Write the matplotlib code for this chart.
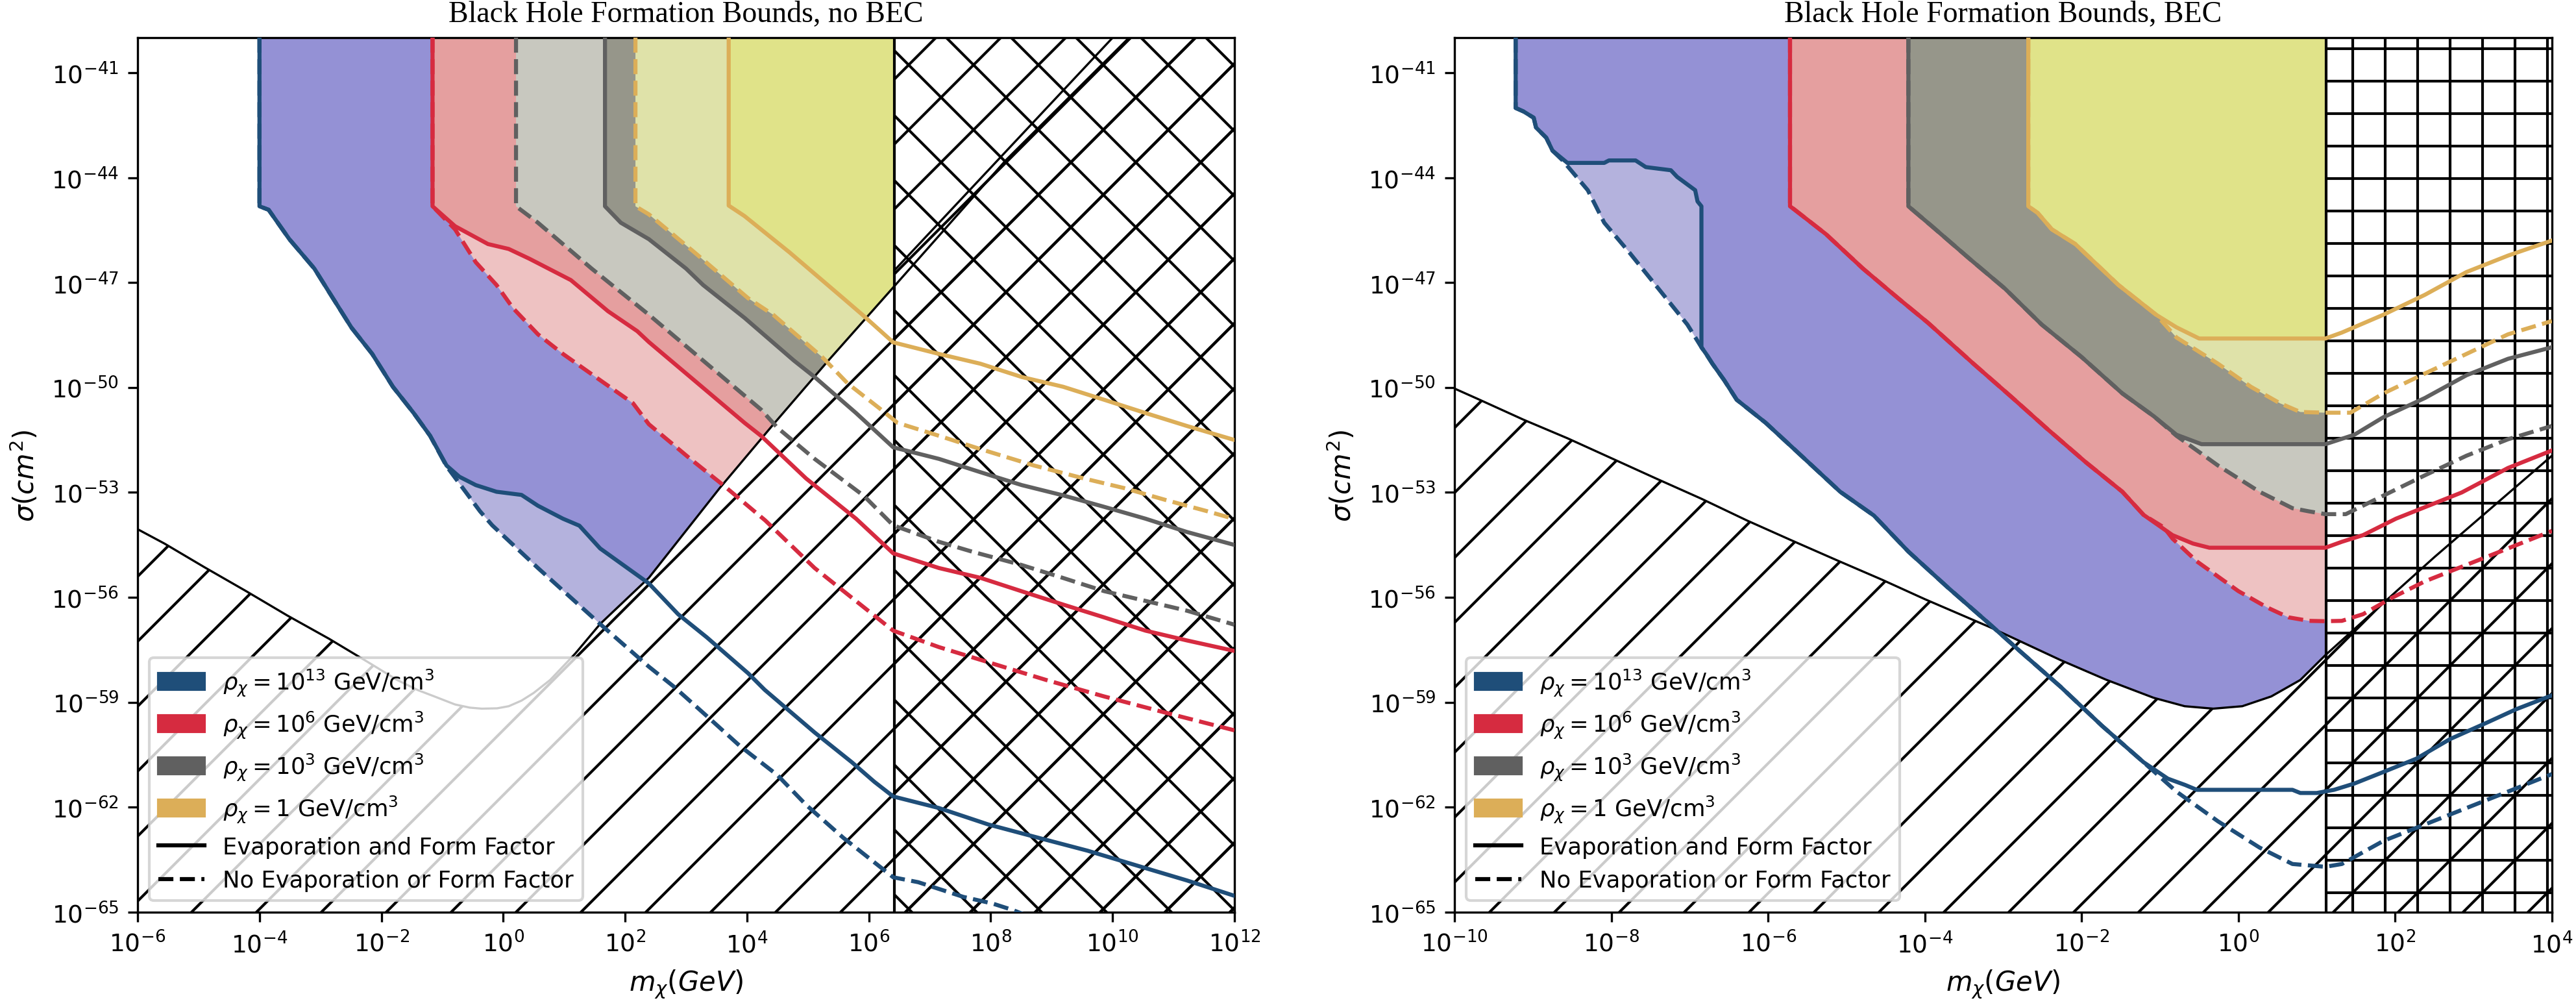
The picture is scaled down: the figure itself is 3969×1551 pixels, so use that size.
import numpy as np
import matplotlib
matplotlib.use("Agg")
import matplotlib.pyplot as plt
from matplotlib.patches import Patch
from matplotlib.lines import Line2D
from matplotlib.ticker import NullLocator

# all curve data below are log10 values
# (mass in GeV, cross section in cm^2)
Y_LIM = (-65, -40)
L_X_LIM = (-6, 12)
R_X_LIM = (-10, 4)

# ---------------- left panel: no BEC ----------------
L_BLUE_SOLID_M = [-4.0, -4.0, -3.85, -3.51, -3.10, -2.83, -2.49, -2.15, -1.81, -1.47, -1.20, -0.93, -0.72, -0.45,
                  -0.11, 0.30, 0.57, 0.98, 1.25, 1.59, 2.39, 2.87, 3.34, 4.02, 4.29, 5.11, 5.72, 6.09, 6.40, 7.15,
                  7.96, 8.78, 9.59, 10.41, 11.22, 12.0]
L_BLUE_SOLID_S = [-40, -44.82, -44.92, -45.76, -46.60, -47.35, -48.29, -49.04, -49.98, -50.73, -51.38, -52.23, -52.55,
                  -52.79, -52.98, -53.07, -53.38, -53.75, -53.95, -54.6, -55.6, -56.48, -57.14, -58.17, -58.64, -59.86,
                  -60.71, -61.27, -61.69, -62.02, -62.49, -62.87, -63.24, -63.67, -64.09, -64.53]
L_BLUE_DASH_M = [-4.0, -4.0, -3.85, -3.51, -3.10, -2.83, -2.49, -2.15, -1.81, -1.47, -1.20, -0.93, -0.38, -0.18,
                 0.57, 1.59, 2.39, 2.80, 3.34, 3.88, 4.50, 4.97, 5.58, 6.19, 6.40, 6.81, 7.55, 8.03, 8.37, 8.6]
L_BLUE_DASH_S = [-40, -44.82, -44.92, -45.76, -46.60, -47.35, -48.29, -49.04, -49.98, -50.73, -51.38, -52.25, -53.54,
                 -53.94, -55.16, -56.76, -57.98, -58.55, -59.39, -60.24, -61.08, -61.93, -62.87, -63.71, -64.0, -64.14,
                 -64.56, -64.75, -64.94, -65.1]

L_RED_SOLID_M = [-1.16, -1.16, -0.79, -0.25, 0.09, 0.43, 1.11, 1.72, 2.20, 2.39, 3.07, 3.96, 4.23, 4.97, 5.79, 6.40,
                 7.15, 7.83, 8.50, 9.18, 9.86, 10.54, 11.22, 12.0]
L_RED_SOLID_S = [-40, -44.82, -45.39, -45.90, -46.04, -46.32, -46.93, -47.82, -48.39, -48.70, -49.70, -51.01, -51.38,
                 -52.6, -53.75, -54.74, -55.16, -55.44, -55.82, -56.20, -56.57, -56.95, -57.23, -57.53]
L_RED_DASH_M = [-1.16, -1.16, -0.79, -0.45, -0.11, 0.16, 0.57, 0.98, 1.59, 2.13, 2.39, 3.07, 3.61, 4.30, 5.11, 5.65,
                6.40, 7.15, 8.03, 8.91, 9.86, 10.88, 12.0]
L_RED_DASH_S = [-40, -44.82, -45.48, -46.42, -47.07, -47.73, -48.48, -49.04, -49.79, -50.45, -51.05, -52.04, -52.79,
                -53.8, -55.16, -55.91, -56.95, -57.42, -57.89, -58.36, -58.83, -59.30, -59.80]

L_GRAY_SOLID_M = [1.67, 1.67, 1.93, 2.39, 3.00, 3.28, 3.96, 4.77, 5.11, 5.79, 6.40, 7.15, 7.83, 8.51, 9.18, 9.86,
                  10.54, 11.22, 12.0]
L_GRAY_SOLID_S = [-40, -44.82, -45.29, -45.76, -46.60, -47.07, -48.01, -49.23, -49.70, -50.73, -51.71, -52.04, -52.42,
                  -52.79, -53.08, -53.41, -53.75, -54.13, -54.50]
L_GRAY_DASH_M = [0.21, 0.21, 0.57, 1.45, 2.39, 3.28, 4.23, 4.50, 5.11, 5.92, 6.40, 7.15, 7.69, 8.50, 9.18, 9.86,
                 10.54, 11.22, 12.0]
L_GRAY_DASH_S = [-40, -44.82, -45.29, -46.60, -47.92, -49.23, -50.63, -51.15, -52.04, -53.10, -53.94, -54.41, -54.69,
                 -55.07, -55.44, -55.82, -56.10, -56.38, -56.78]

L_GOLD_SOLID_M = [3.70, 3.70, 3.96, 4.70, 5.58, 5.92, 6.40, 7.15, 7.83, 8.51, 9.19, 9.86, 10.54, 11.22, 12.0]
L_GOLD_SOLID_S = [-40, -44.80, -45.10, -46.14, -47.45, -47.96, -48.71, -49.04, -49.32, -49.70, -49.98, -50.35, -50.73,
                  -51.10, -51.50]
L_GOLD_DASH_M = [2.17, 2.17, 2.39, 3.14, 4.02, 4.43, 5.24, 5.65, 6.20, 6.47, 7.15, 7.83, 8.71, 9.53, 10.20, 10.88,
                 11.56, 12.0]
L_GOLD_DASH_S = [-40, -44.82, -45.05, -46.14, -47.45, -47.92, -49.14, -49.88, -50.63, -51.01, -51.38, -51.76, -52.23,
                 -52.60, -52.88, -53.22, -53.54, -53.76]

# boundary of the hatched (no black hole) region
L_BOUND_M = [-6.0, -5.56, -4.90, -4.22, -3.54, -2.86, -2.20, -1.74, -1.40, -1.13, -0.79, -0.55, -0.35, -0.10, 0.09,
             0.30, 0.50, 0.77, 1.18, 1.59, 2.39, 3.55, 4.43, 5.31, 6.40, 8.25, 10.27]
L_BOUND_S = [-54.05, -54.46, -55.14, -55.82, -56.52, -57.18, -57.87, -58.36, -58.65, -58.83, -59.06, -59.15, -59.18,
             -59.17, -59.11, -58.95, -58.73, -58.36, -57.61, -56.76, -55.44, -52.88, -51.06, -49.28, -47.14, -43.50,
             -40.0]
L_EXTRA_M = [6.42, 9.98]
L_EXTRA_S = [-46.65, -40.04]
L_XHATCH_EDGE = 6.42

# ---------------- right panel: BEC ----------------
R_BLUE_SOLID_M = [-9.22, -9.22, -9.12, -8.99, -8.96, -8.83, -8.75, -8.56, -8.09, -8.03, -7.69, -7.56, -7.24, -7.16,
                  -6.93, -6.90, -6.85, -6.85, -6.79, -6.71, -6.56, -6.40, -6.03, -5.60, -5.08, -4.65, -4.21, -3.70,
                  -3.22, -2.80, -2.27, -1.74, -1.21, -0.90, -0.68, -0.53, 0.69, 0.79, 1.0, 1.22, 1.48, 1.85, 2.27,
                  2.70, 3.17, 3.54, 4.0]
R_BLUE_SOLID_S = [-40, -42.01, -42.11, -42.29, -42.57, -42.86, -43.23, -43.58, -43.58, -43.51, -43.51, -43.70, -43.79,
                  -43.98, -44.36, -44.68, -44.82, -48.85, -49.04, -49.32, -49.79, -50.35, -51.01, -51.90, -52.98,
                  -53.66, -54.69, -55.73, -56.67, -57.51, -58.55, -59.67, -60.71, -61.18, -61.36, -61.50, -61.50,
                  -61.59, -61.59, -61.50, -61.32, -60.99, -60.61, -60.05, -59.58, -59.20, -58.80]
R_BLUE_DASH_M = [-9.22, -9.22, -9.12, -8.99, -8.96, -8.83, -8.75, -8.62, -8.30, -8.09, -7.77, -7.40, -7.03, -6.85,
                 -6.79, -6.71, -6.56, -6.40, -6.03, -5.60, -5.08, -4.65, -4.21, -3.70, -3.22, -2.80, -2.27, -1.74,
                 -1.21, -0.79, -0.26, 0.27, 0.69, 1.11, 1.32, 1.85, 2.38, 2.91, 3.44, 4.0]
R_BLUE_DASH_S = [-40, -42.01, -42.11, -42.29, -42.57, -42.86, -43.23, -43.51, -44.36, -45.29, -46.14, -47.17, -48.20,
                 -48.85, -49.04, -49.32, -49.79, -50.35, -51.01, -51.90, -52.98, -53.66, -54.69, -55.73, -56.67,
                 -57.51, -58.55, -59.67, -60.71, -61.55, -62.40, -63.15, -63.62, -63.70, -63.62, -62.96, -62.49,
                 -62.02, -61.55, -61.05]

R_RED_SOLID_M = [-5.72, -5.72, -5.66, -5.26, -4.79, -4.34, -3.96, -3.38, -2.90, -2.43, -1.95, -1.48, -1.21, -0.84,
                 -0.58, -0.37, 1.11, 1.32, 1.59, 2.01, 2.38, 2.85, 3.44, 4.0]
R_RED_SOLID_S = [-40, -44.82, -44.92, -45.62, -46.60, -47.45, -48.15, -49.32, -50.26, -51.20, -52.13, -52.98, -53.64,
                 -54.22, -54.46, -54.58, -54.58, -54.41, -54.22, -53.75, -53.42, -53.0, -52.3, -51.8]
R_RED_DASH_M = [-5.72, -5.72, -5.66, -5.26, -4.79, -4.34, -3.96, -3.38, -2.90, -2.43, -1.95, -1.48, -1.21, -0.95,
                -0.84, -0.53, 0.0, 0.37, 0.64, 0.90, 1.11, 1.32, 1.59, 1.96, 2.38, 2.91, 3.44, 4.0]
R_RED_DASH_S = [-40, -44.82, -44.92, -45.62, -46.60, -47.45, -48.15, -49.32, -50.26, -51.20, -52.13, -52.98, -53.64,
                -54.0, -54.32, -54.97, -55.82, -56.29, -56.57, -56.67, -56.68, -56.67, -56.48, -56.01, -55.54, -55.07,
                -54.60, -54.10]

R_GRAY_SOLID_M = [-4.21, -4.21, -3.91, -3.43, -2.98, -2.51, -2.00, -1.48, -1.08, -0.79, -0.47, 1.11, 1.48, 1.85,
                  2.38, 2.91, 3.44, 4.0]
R_GRAY_SOLID_S = [-40, -44.82, -45.39, -46.32, -47.17, -48.20, -49.13, -50.17, -50.82, -51.35, -51.62, -51.62, -51.35,
                  -50.85, -50.30, -49.65, -49.18, -48.85]
R_GRAY_DASH_M = [-4.21, -4.21, -3.91, -3.43, -2.98, -2.51, -2.00, -1.48, -1.08, -0.79, -0.26, 0.27, 0.69, 0.90,
                 1.11, 1.37, 1.85, 2.38, 2.91, 3.44, 4.0]
R_GRAY_DASH_S = [-40, -44.82, -45.39, -46.32, -47.17, -48.20, -49.13, -50.17, -50.82, -51.38, -52.23, -52.98, -53.45,
                 -53.54, -53.62, -53.62, -53.09, -52.51, -51.95, -51.48, -51.10]

R_GOLD_SOLID_M = [-2.68, -2.68, -2.56, -2.38, -2.08, -1.53, -1.05, -0.79, -0.50, 1.11, 1.32, 1.85, 2.38, 2.91, 3.44,
                  4.0]
R_GOLD_SOLID_S = [-40, -44.82, -45.01, -45.48, -45.90, -47.07, -47.92, -48.28, -48.60, -48.60, -48.43, -47.92, -47.35,
                  -46.70, -46.23, -45.80]
R_GOLD_DASH_M = [-2.68, -2.68, -2.56, -2.38, -2.08, -1.53, -1.05, -0.79, -0.26, 0.16, 0.53, 0.79, 1.11, 1.43, 1.85,
                 2.38, 2.91, 3.44, 4.0]
R_GOLD_DASH_S = [-40, -44.82, -45.01, -45.48, -45.90, -47.07, -47.92, -48.57, -49.32, -49.98, -50.45, -50.70, -50.72,
                 -50.72, -50.17, -49.60, -49.04, -48.48, -48.10]

R_BOUND_M = [-10.0, -9.70, -9.12, -8.56, -7.98, -7.43, -6.85, -6.27, -5.71, -5.13, -4.55, -4.00, -3.17, -2.27, -1.69,
             -1.08, -0.685, -0.32, 0.05, 0.42, 0.79, 1.11, 2.5, 4.0]
R_BOUND_S = [-50.03, -50.33, -50.92, -51.45, -52.04, -52.60, -53.18, -53.80, -54.36, -54.93, -55.49, -56.05, -56.85,
             -57.79, -58.35, -58.87, -59.11, -59.18, -59.11, -58.83, -58.36, -57.65, -54.85, -51.95]
R_GRID_EDGE = 1.12

# legend / style
LABELS = [r"$\rho_\chi = 10^{13}$ GeV/cm$^3$", r"$\rho_\chi = 10^{6}$ GeV/cm$^3$",
          r"$\rho_\chi = 10^{3}$ GeV/cm$^3$", r"$\rho_\chi = 1$ GeV/cm$^3$"]
LINE_COLORS = ["#1f4e79", "#d62b40", "#606060", "#dcae58"]
DARK_FILLS = ["#9491d5", "#e59f9f", "#96968a", "#e0e389"]
LIGHT_FILLS = ["#b4b2dd", "#eec2c2", "#c8c8bf", "#dfe2a9"]

plt.rcParams["hatch.linewidth"] = 1.0


def lg(a):
    return 10.0 ** np.asarray(a, dtype=float)


def fill_above(ax, m, s, color):
    # polygon from the curve up to the top of the plot
    x = lg(list(m) + [m[-1]])
    y = lg(list(s) + [Y_LIM[1]])
    ax.fill(x, y, facecolor=color, edgecolor="none", lw=0, zorder=1)


def hatch_poly(ax, x, y, pattern):
    ax.fill(x, y, facecolor="white", edgecolor="none", lw=0, zorder=2)
    ax.fill(x, y, facecolor="none", edgecolor="black", hatch=pattern, lw=0, zorder=2.2)


def draw_panel(ax, curves, bound_m, bound_s, xlim, edge, edge_hatch, title):
    # filled exclusion regions, widest first
    for (sm, ss, dm, ds), dark, light in zip(curves, DARK_FILLS, LIGHT_FILLS):
        fill_above(ax, dm, ds, light)
        fill_above(ax, sm, ss, dark)

    # hatched region below the boundary curve
    bx = lg(list(bound_m) + [xlim[1], xlim[1], xlim[0]])
    by = lg(list(bound_s) + [Y_LIM[1], Y_LIM[0], Y_LIM[0]])
    hatch_poly(ax, bx, by, "/")
    # hatched band on the right
    rx = lg([edge, xlim[1], xlim[1], edge])
    ry = lg([Y_LIM[0], Y_LIM[0], Y_LIM[1], Y_LIM[1]])
    ax.fill(rx, ry, facecolor="white", edgecolor="none", lw=0, zorder=2)
    ax.fill(rx, ry, facecolor="none", edgecolor="black", hatch=edge_hatch, lw=0, zorder=2.3)
    ax.axvline(lg(edge), color="black", lw=1.0, zorder=2.5)
    ax.plot(lg(bound_m), lg(bound_s), color="black", lw=0.8, zorder=2.5)

    for (sm, ss, dm, ds), c in zip(curves, LINE_COLORS):
        ax.plot(lg(dm), lg(ds), color=c, lw=1.5, ls="--", zorder=3)
        ax.plot(lg(sm), lg(ss), color=c, lw=1.5, ls="-", zorder=3.1)

    ax.set_xscale("log")
    ax.set_yscale("log")
    ax.set_xlim(lg(xlim[0]), lg(xlim[1]))
    ax.set_ylim(lg(Y_LIM[0]), lg(Y_LIM[1]))
    ax.set_xticks(10.0 ** np.arange(xlim[0], xlim[1] + 1, 2))
    ax.set_yticks(10.0 ** np.arange(-65, -40, 3))
    ax.xaxis.set_minor_locator(NullLocator())
    ax.yaxis.set_minor_locator(NullLocator())
    ax.tick_params(labelsize=9)
    ax.set_xlabel(r"$m_\chi (GeV)$", fontsize=10)
    ax.set_ylabel(r"$\sigma (cm^2)$", fontsize=10)
    ax.set_title(title, fontsize=11, family="Liberation Serif")

    handles = [Patch(facecolor=c, edgecolor=c) for c in LINE_COLORS]
    handles += [Line2D([], [], color="black", lw=1.5, ls="-"),
                Line2D([], [], color="black", lw=1.5, ls="--")]
    labels = LABELS + ["Evaporation and Form Factor", "No Evaporation or Form Factor"]
    ax.legend(handles, labels, loc="lower left", fontsize=8.5)


fig = plt.figure(figsize=(3970 / 300, 1552 / 300), dpi=300)
ax_l = fig.add_axes([0.0534, 0.094, 0.4257, 0.868])
ax_r = fig.add_axes([0.5645, 0.094, 0.4259, 0.868])

left_curves = [
    (L_BLUE_SOLID_M, L_BLUE_SOLID_S, L_BLUE_DASH_M, L_BLUE_DASH_S),
    (L_RED_SOLID_M, L_RED_SOLID_S, L_RED_DASH_M, L_RED_DASH_S),
    (L_GRAY_SOLID_M, L_GRAY_SOLID_S, L_GRAY_DASH_M, L_GRAY_DASH_S),
    (L_GOLD_SOLID_M, L_GOLD_SOLID_S, L_GOLD_DASH_M, L_GOLD_DASH_S),
]
right_curves = [
    (R_BLUE_SOLID_M, R_BLUE_SOLID_S, R_BLUE_DASH_M, R_BLUE_DASH_S),
    (R_RED_SOLID_M, R_RED_SOLID_S, R_RED_DASH_M, R_RED_DASH_S),
    (R_GRAY_SOLID_M, R_GRAY_SOLID_S, R_GRAY_DASH_M, R_GRAY_DASH_S),
    (R_GOLD_SOLID_M, R_GOLD_SOLID_S, R_GOLD_DASH_M, R_GOLD_DASH_S),
]

draw_panel(ax_l, left_curves, L_BOUND_M, L_BOUND_S, L_X_LIM, L_XHATCH_EDGE, "x",
           "Black Hole Formation Bounds, no BEC")
ax_l.plot(lg(L_EXTRA_M), lg(L_EXTRA_S), color="black", lw=0.8, zorder=2.5)

draw_panel(ax_r, right_curves, R_BOUND_M, R_BOUND_S, R_X_LIM, R_GRID_EDGE, "+",
           "Black Hole Formation Bounds, BEC")

fig.savefig("out.png", dpi=300)
